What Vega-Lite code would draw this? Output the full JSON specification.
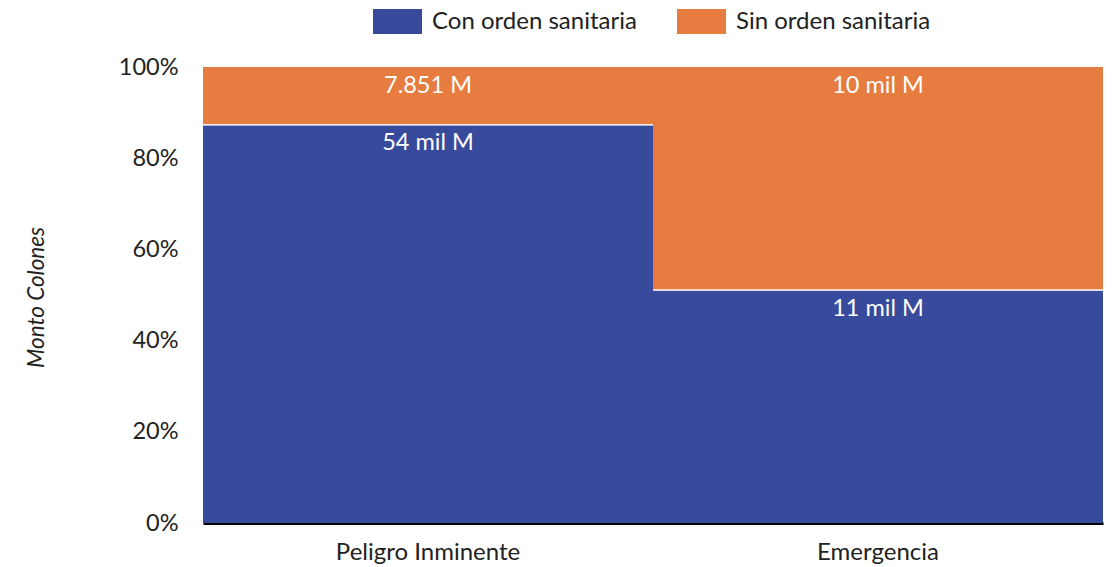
{
  "$schema": "https://vega.github.io/schema/vega-lite/v6.json",
  "width": 900,
  "height": 456,
  "autosize": {"type": "none"},
  "padding": {"left": 203, "top": 67, "right": 9, "bottom": 44},
  "background": "white",
  "config": {"font": "Lato", "view": {"stroke": null}},
  "data": {
    "values": [
      {"categoria": "Peligro Inminente", "orden": "Con orden sanitaria", "monto": 54000, "etiqueta": "54 mil M", "k": 1},
      {"categoria": "Peligro Inminente", "orden": "Sin orden sanitaria", "monto": 7851, "etiqueta": "7.851 M", "k": 2},
      {"categoria": "Emergencia", "orden": "Con orden sanitaria", "monto": 10650, "etiqueta": "11 mil M", "k": 1},
      {"categoria": "Emergencia", "orden": "Sin orden sanitaria", "monto": 10200, "etiqueta": "10 mil M", "k": 2}
    ]
  },
  "transform": [
    {"stack": "monto", "groupby": ["categoria"], "sort": [{"field": "k", "order": "ascending"}], "offset": "normalize", "as": ["y0", "y1"]}
  ],
  "encoding": {
    "x": {
      "field": "categoria",
      "type": "nominal",
      "sort": ["Peligro Inminente", "Emergencia"],
      "scale": {"paddingInner": 0, "paddingOuter": 0},
      "axis": {
        "title": null,
        "labelAngle": 0,
        "labelFontSize": 24,
        "labelColor": "#222222",
        "labelPadding": 17,
        "labelLimit": 0,
        "ticks": false,
        "domainColor": "#000000",
        "domainWidth": 3,
        "grid": false
      }
    }
  },
  "layer": [
    {
      "mark": {"type": "bar"},
      "encoding": {
        "y": {
          "field": "y0",
          "type": "quantitative",
          "scale": {"domain": [0, 1]},
          "axis": {
            "values": [0, 0.2, 0.4, 0.6, 0.8, 1],
            "format": ".0%",
            "labelFontSize": 23.5,
            "labelColor": "#222222",
            "labelPadding": 25,
            "ticks": false,
            "domain": false,
            "grid": false,
            "title": "Monto Colones",
            "titleFontSize": 22.5,
            "titleFontStyle": "italic",
            "titleFontWeight": "normal",
            "titleColor": "#222222",
            "titleX": -155,
            "titleY": 230,
            "titleAngle": -90,
            "titleAlign": "center",
            "titleBaseline": "bottom"
          }
        },
        "y2": {"field": "y1"},
        "color": {
          "field": "orden",
          "type": "nominal",
          "scale": {"domain": ["Con orden sanitaria", "Sin orden sanitaria"], "range": ["#384A9B", "#E67C3F"]},
          "legend": {
            "title": null,
            "orient": "none",
            "direction": "horizontal",
            "legendX": 170,
            "legendY": -70,
            "padding": 0,
            "symbolType": "M-1,-0.51H1V0.51H-1Z",
            "symbolSize": 2401,
            "symbolStrokeWidth": 0,
            "labelFontSize": 24,
            "labelColor": "#222222",
            "labelOffset": 10,
            "labelLimit": 0,
            "columnPadding": 40
          }
        }
      }
    },
    {
      "transform": [{"filter": "datum.k == 1"}],
      "mark": {"type": "rect", "color": "white", "stroke": "white", "strokeWidth": 1},
      "encoding": {
        "y": {"field": "y1", "type": "quantitative"},
        "y2": {"field": "y1"}
      }
    },
    {
      "mark": {"type": "text", "color": "white", "fontSize": 23.5, "dy": 18.5, "baseline": "middle"},
      "encoding": {
        "y": {"field": "y1", "type": "quantitative"},
        "text": {"field": "etiqueta"}
      }
    }
  ]
}
